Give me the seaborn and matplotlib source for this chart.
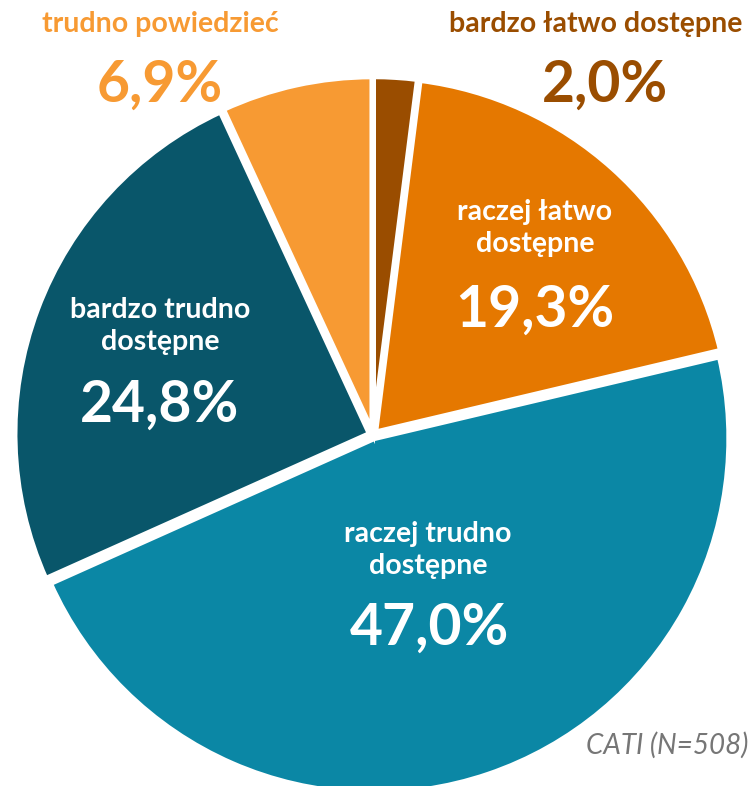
import matplotlib
matplotlib.use("Agg")
import matplotlib.pyplot as plt
import seaborn as sns
import pandas as pd

categories = ["bardzo łatwo dostępne", "raczej łatwo dostępne", "raczej trudno dostępne",
              "bardzo trudno dostępne", "trudno powiedzieć"]
values = [2.0, 19.3, 47.0, 24.8, 6.9]
value_labels = ["2,0%", "19,3%", "47,0%", "24,8%", "6,9%"]
colors = ["#9A4D00", "#E57800", "#0B87A5", "#09566A", "#F79A33"]
note = "CATI (N=508)"

df = pd.DataFrame({"category": categories, "value": values, "label": value_labels})

sns.set_theme(style="white")
plt.rcParams["font.family"] = ["Lato", "DejaVu Sans"]

W, H = 754, 786
fig = plt.figure(figsize=(W / 100, H / 100), dpi=100)
ax = fig.add_axes([0, 0, 1, 1])
cx, cy, R = 373, 435, 355

wedges, _ = ax.pie(df["value"], colors=colors, startangle=90, counterclock=False,
                   radius=1.0, wedgeprops=dict(edgecolor="white", linewidth=4),
                   explode=[0.01] * 5)
ax.set_aspect("auto")
ax.set_xlim(-cx / R, (W - cx) / R)
ax.set_ylim(-(H - cy) / R, cy / R)
ax.axis("off")


def px(x, y):
    return (x - cx) / R, (cy - y) / R


small = 20.5
big = 41
# inside labels
inside = [
    (1, "raczej łatwo\ndostępne", (535, 228), (535, 310)),
    (2, "raczej trudno\ndostępne", (428, 550), (430, 628)),
    (3, "bardzo trudno\ndostępne", (160, 326), (160, 405)),
]
for i, name, p1, p2 in inside:
    ax.text(*px(*p1), name, ha="center", va="center", color="white",
            fontsize=small, fontweight="bold", linespacing=1.3)
    ax.text(*px(*p2), df["label"][i], ha="center", va="center", color="white",
            fontsize=big, fontweight="bold")

# outside labels
ax.text(*px(596, 24), df["category"][0], ha="center", va="center", color=colors[0],
        fontsize=small, fontweight="bold")
ax.text(*px(605, 85), df["label"][0], ha="center", va="center", color=colors[0],
        fontsize=big, fontweight="bold")
ax.text(*px(160, 24), df["category"][4], ha="center", va="center", color=colors[4],
        fontsize=small, fontweight="bold")
ax.text(*px(160, 85), df["label"][4], ha="center", va="center", color=colors[4],
        fontsize=big, fontweight="bold")

ax.text(*px(748, 745), note, ha="right", va="center", color="#767676",
        fontsize=20, fontstyle="italic")

fig.savefig("out.png", dpi=100)
